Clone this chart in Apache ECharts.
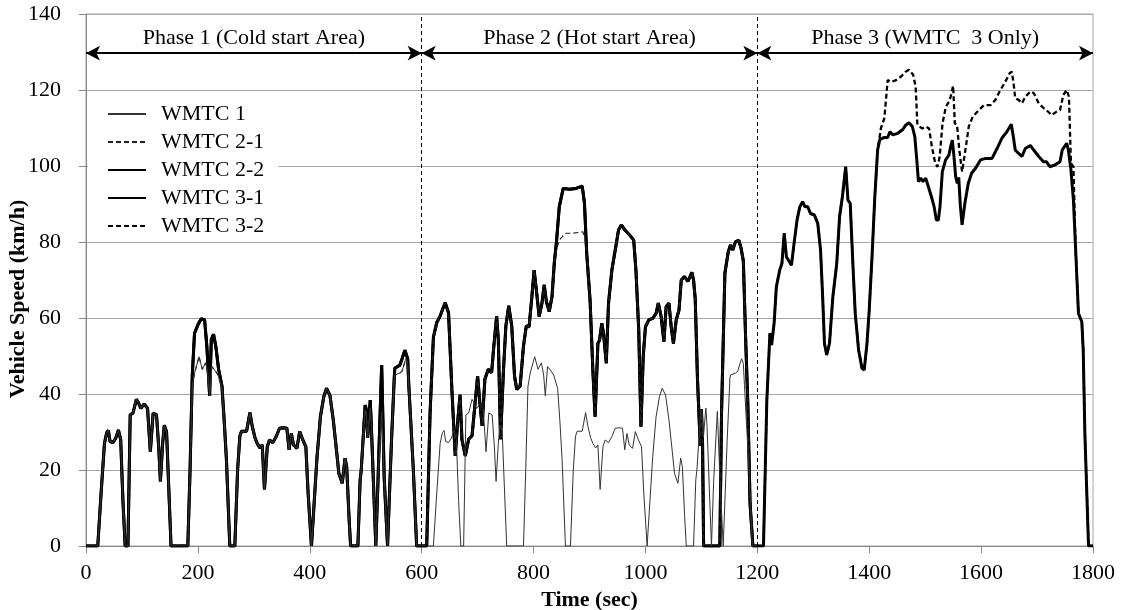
<!DOCTYPE html>
<html>
<head>
<meta charset="utf-8">
<script src="https://cdn.jsdelivr.net/npm/echarts@6/dist/echarts.min.js"></script>
<style>
html,body{margin:0;padding:0;background:#fff;}
#chart{width:1126px;height:610px;}
</style>
</head>
<body>
<div id="chart"></div>
<script>
// ---- Data: [time (s), speed (km/h)] ----
const seriesNames = ['WMTC 1', 'WMTC 2-1', 'WMTC 2-2', 'WMTC 3-1', 'WMTC 3-2'];
const phaseLabels = ['Phase 1 (Cold start Area)', 'Phase 2 (Hot start Area)', 'Phase 3 (WMTC  3 Only)'];
const phaseBounds = [0, 600, 1200, 1800];
const phaseArrowLevel = 129.7;

// Phase 1, full speed (WMTC 2-2 / 3-1 / 3-2)
const part1Full = [[0,0],[21,0],[27,14],[33,27],[37,29.8],[40,30.4],[43,27.5],[48,27.2],[53,28.3],[58,30.5],[62,28],[66,12],[70,0],[75,0],[79,34.5],[84,35],[90,38.6],[94,37.6],[98,36.2],[104,37.4],[110,36.2],[115,24.8],[120,35],[126,34.5],[130,26],[133,17],[137,27],[140,31.8],[144,30],[148,15],[152,0],[182,0],[186,20],[190,45],[194,56],[200,58.2],[206,59.8],[212,59.5],[216,52.6],[221,39.5],[224,54.4],[228,55.7],[232,52.6],[237,46.5],[243,42.1],[247,33],[251,22.8],[257,0],[266,0],[271,20],[275,28.9],[278,30.2],[287,30.2],[293,35.1],[297,31.6],[302,28.5],[306,27],[311,25.8],[315,26.6],[319,14.9],[324,26.1],[328,27.9],[334,27.2],[340,28.8],[346,31],[353,31.1],[359,31],[363,25.3],[367,29.6],[371,26.6],[377,25.7],[382,30.1],[387,28.1],[393,26.1],[397,13.9],[403,0],[406,0],[413,23.5],[419,34],[425,39.3],[430,41.5],[436,39.7],[442,33.2],[448,24.8],[452,19.1],[458,16.5],[463,23.1],[466,20.9],[470,8],[473,0],[486,0],[490,17.4],[492,20],[499,37.1],[501,36],[503.5,28.5],[508,38.4],[510,31.8],[518,0],[522,17.4],[528.5,47.6],[530,38],[533,18],[539,0],[546,27.5],[551,44.2],[552,46.8],[561,47.6],[565,49.3],[570,51.5],[572,51.9],[575,49.3],[577,42.3],[585,20.4],[591,0],[600,0]];

// Phase 1, reduced speed (WMTC 1 / 2-1, cold)
const part1Reduced = [[0,0],[21,0],[27,14],[33,27],[37,29.8],[40,30.4],[43,27.5],[48,27.2],[53,28.3],[58,30.5],[62,28],[66,12],[70,0],[75,0],[79,34.5],[84,35],[90,38.6],[94,37.6],[98,36.2],[104,37.4],[110,36.2],[115,24.8],[120,35],[126,34.5],[130,26],[133,17],[137,27],[140,31.8],[144,30],[148,15],[152,0],[182,0],[186,20],[190,42],[194,45.5],[202,49.8],[208,46.5],[214,48.2],[218,45],[221,39.5],[225,47.2],[230,46.3],[236,45],[243,41.5],[247,33],[251,22.8],[257,0],[266,0],[271,20],[275,28.9],[278,30.2],[287,30.2],[293,35.1],[297,31.6],[302,28.5],[306,27],[311,25.8],[315,26.6],[319,14.9],[324,26.1],[328,27.9],[334,27.2],[340,28.8],[346,31],[353,31.1],[359,31],[363,25.3],[367,29.6],[371,26.6],[377,25.7],[382,30.1],[387,28.1],[393,26.1],[397,13.9],[403,0],[406,0],[413,23.5],[419,34],[425,39.3],[430,41.5],[436,39.7],[442,33.2],[448,24.8],[452,19.1],[458,16.5],[463,23.1],[466,20.9],[470,8],[473,0],[486,0],[490,17.4],[492,20],[499,35.8],[501,35],[503.5,28.5],[508,36.3],[510,31.8],[518,0],[522,17.4],[528.5,35.4],[530,30],[533,18],[539,0],[546,27.5],[551,44.2],[552,45],[561,45.5],[565,46],[570,48.5],[572,49.3],[575,48],[577,42.3],[585,20.4],[591,0],[600,0]];

// Phase 2 of WMTC 1 (reduced part 1 run again, hot)
const part1ReducedHot = [[600,0],[621,0],[627,14],[633,27],[637,29.8],[640,30.4],[643,27.5],[648,27.2],[653,28.3],[658,30.5],[662,28],[666,12],[670,0],[675,0],[679,34.5],[684,35],[690,38.6],[694,37.6],[698,36.2],[704,37.4],[710,36.2],[715,24.8],[720,35],[726,34.5],[730,26],[733,17],[737,27],[740,31.8],[744,30],[748,15],[752,0],[782,0],[786,20],[790,42],[794,45.5],[802,49.8],[808,46.5],[814,48.2],[818,45],[821,39.5],[825,47.2],[830,46.3],[836,45],[843,41.5],[847,33],[851,22.8],[857,0],[866,0],[871,20],[875,28.9],[878,30.2],[887,30.2],[893,35.1],[897,31.6],[902,28.5],[906,27],[911,25.8],[915,26.6],[919,14.9],[924,26.1],[928,27.9],[934,27.2],[940,28.8],[946,31],[953,31.1],[959,31],[963,25.3],[967,29.6],[971,26.6],[977,25.7],[982,30.1],[987,28.1],[993,26.1],[997,13.9],[1003,0],[1006,0],[1013,23.5],[1019,34],[1025,39.3],[1030,41.5],[1036,39.7],[1042,33.2],[1048,24.8],[1052,19.1],[1058,16.5],[1063,23.1],[1066,20.9],[1070,8],[1073,0],[1086,0],[1090,17.4],[1092,20],[1099,35.8],[1101,35],[1103.5,28.5],[1108,36.3],[1110,31.8],[1118,0],[1122,17.4],[1128.5,35.4],[1130,30],[1133,18],[1139,0],[1146,27.5],[1151,44.2],[1152,45],[1161,45.5],[1165,46],[1170,48.5],[1172,49.3],[1175,48],[1177,42.3],[1185,20.4],[1191,0],[1200,0]];

// Phase 2, full speed (WMTC 2-2 / 3-1 / 3-2)
const part2Full = [[600,0],[609,0],[615,35],[621,55],[627,58.8],[633,60.5],[638,62.5],[642,64],[648,61.4],[654,41.2],[660,23.7],[664,32],[668.6,39.8],[672,28],[678,23.7],[684,28.1],[690,29],[695,36.8],[700,44.7],[704,37.7],[708,31.6],[713,43.9],[719,46.5],[725,45.6],[729,52.6],[734,60.5],[737,54.4],[741,28.1],[746,45.6],[750.5,57.9],[755.6,63.2],[761,57.9],[766,44.7],[770,41.2],[776,42.1],[782,52.6],[787,57.9],[792,57.7],[797,65.6],[801,72.6],[805,67.4],[810,60.4],[815,63.9],[819,68.7],[823,64.3],[828,61.7],[833,65.6],[837,74.4],[841,80.1],[846,89.3],[853,94.1],[864,93.9],[876,94.1],[887,94.7],[891,90.2],[895,77],[901,64.7],[906,46.3],[910,34],[915,53.3],[918,54.2],[922,58.6],[925,56],[930,48.1],[934,63.9],[940,72.6],[946,77.9],[952,83.2],[957,84.5],[963,83.2],[972,81.8],[979,80.5],[983,72.6],[988,56.8],[992,31.4],[996,49.8],[1000,57.7],[1006,59.5],[1013,59.9],[1019,61.2],[1023,63.9],[1028,60.4],[1033,53.8],[1037,63],[1042,63.9],[1046,57.7],[1050,53.3],[1055,59.5],[1060,62.1],[1064,70],[1070,70.9],[1076,69.6],[1083,72],[1086,70],[1089,65],[1093,43.9],[1098,26.3],[1100,36],[1102,28],[1104,0],[1133,0],[1136,35],[1142,71.8],[1148,77.4],[1152,79.2],[1156,77.9],[1161,80.1],[1167,80.4],[1171,78.3],[1175,75],[1179,55],[1183,37.5],[1187,11.2],[1192,0],[1200,0]];

// Phase 2, reduced speed (WMTC 2-1)
const part2Reduced = [[600,0],[609,0],[615,35],[621,55],[627,58.8],[633,60.5],[638,62.5],[642,64],[648,61.4],[654,41.2],[660,23.7],[664,32],[668.6,39.8],[672,28],[678,23.7],[684,28.1],[690,29],[695,36.8],[700,44.7],[704,37.7],[708,31.6],[713,43.9],[719,46.5],[725,45.6],[729,52.6],[734,60.5],[737,54.4],[741,28.1],[746,45.6],[750.5,57.9],[755.6,63.2],[761,57.9],[766,44.7],[770,41.2],[776,42.1],[782,52.6],[787,57.9],[792,57.7],[797,65.6],[801,72.6],[805,67.4],[810,60.4],[815,63.9],[819,68.7],[823,64.3],[828,61.7],[833,65.6],[837,74.4],[841,78],[846,80.5],[852,81.5],[858,82.3],[870,82.3],[880,82.5],[888,82.7],[892,81],[895,77],[901,64.7],[906,46.3],[910,34],[915,53.3],[918,54.2],[922,58.6],[925,56],[930,48.1],[934,63.9],[940,72.6],[946,77.9],[952,83.2],[957,84.5],[963,83.2],[972,81.8],[979,80.5],[983,72.6],[988,56.8],[992,31.4],[996,49.8],[1000,57.7],[1006,59.5],[1013,59.9],[1019,61.2],[1023,63.9],[1028,60.4],[1033,53.8],[1037,63],[1042,63.9],[1046,57.7],[1050,53.3],[1055,59.5],[1060,62.1],[1064,70],[1070,70.9],[1076,69.6],[1083,72],[1086,70],[1089,65],[1093,43.9],[1098,26.3],[1100,36],[1102,28],[1104,0],[1133,0],[1136,35],[1142,71.8],[1148,77.4],[1152,79.2],[1156,77.9],[1161,80.1],[1167,80.4],[1171,78.3],[1175,75],[1179,55],[1183,37.5],[1187,11.2],[1192,0],[1200,0]];

// Phase 3, reduced speed (WMTC 3-1)
const part3Reduced = [[1200,0],[1211,0],[1217,38.4],[1222.5,56],[1225.5,52.9],[1230,58.6],[1234,68.2],[1240,72.6],[1244,74.4],[1248,82.3],[1252,76.1],[1261,73.9],[1266,80.1],[1271,85.8],[1276,89.3],[1281,90.6],[1285,89.3],[1290,89.3],[1295,87.5],[1302,87.1],[1308,84.9],[1313,77.9],[1317,64.7],[1320,53.3],[1324,50.3],[1329,53.3],[1335,65.6],[1342,74.4],[1347,86.7],[1352,91.9],[1358,99.8],[1362,91],[1366,90.2],[1371,73.5],[1375,61.2],[1381,51.6],[1387,46.8],[1391,46.3],[1396,53.3],[1400,62.1],[1405,76.1],[1410,91.9],[1415,104.2],[1419,107],[1427,107.5],[1433,107.5],[1437,109],[1442,108.2],[1451,108.6],[1460,109.6],[1465.5,110.8],[1471,111.4],[1477,110.4],[1481.5,107.7],[1485,101.6],[1488,95.9],[1492,96.8],[1496,95.9],[1501,96.8],[1504,95.4],[1507,95.9],[1512,91.5],[1516,89.3],[1520,85.8],[1523.6,85.8],[1526.5,89.3],[1530.7,98.5],[1536.6,101.6],[1542.5,102.9],[1545.5,105.1],[1548.5,106.8],[1551.5,102.5],[1554.5,97.2],[1557.5,95.4],[1560,97],[1563,89.3],[1566,84.5],[1571,90.2],[1577,95.4],[1583,98.1],[1590,99.4],[1599,101.6],[1608,102],[1619.5,102],[1628.5,104.6],[1637,107.3],[1646,109],[1654,111],[1658,107.3],[1661,104.2],[1667,103.3],[1673,102.5],[1679,104.6],[1688,105.4],[1694,104.2],[1703,102.5],[1711.5,101.1],[1717,101.1],[1723,99.8],[1732,100.3],[1741,101.1],[1745,104.2],[1753,106],[1756,104.2],[1760.6,98.9],[1765,91],[1769,77.9],[1774,61.2],[1780,59],[1782.5,51.6],[1785.5,29.6],[1792,0],[1800,0]];

// Phase 3, full speed (WMTC 3-2)
const part3Full = [[1200,0],[1211,0],[1217,38.4],[1222.5,56],[1225.5,52.9],[1230,58.6],[1234,68.2],[1240,72.6],[1244,74.4],[1248,82.3],[1252,76.1],[1261,73.9],[1266,80.1],[1271,85.8],[1276,89.3],[1281,90.6],[1285,89.3],[1290,89.3],[1295,87.5],[1302,87.1],[1308,84.9],[1313,77.9],[1317,64.7],[1320,53.3],[1324,50.3],[1329,53.3],[1335,65.6],[1342,74.4],[1347,86.7],[1352,91.9],[1358,99.8],[1362,91],[1366,90.2],[1371,73.5],[1375,61.2],[1381,51.6],[1387,46.8],[1391,46.3],[1396,53.3],[1400,62.1],[1405,76.1],[1410,91.9],[1415,104.2],[1421,110],[1427,112.5],[1433,122.6],[1439,122.1],[1448,122.6],[1456.6,123.5],[1465,124.8],[1471,125.3],[1478.5,124],[1483,120.9],[1486,111.2],[1489,110.4],[1495,109.9],[1501,110.4],[1507,109.9],[1512,105.1],[1518,100.7],[1522,99.8],[1526,102.5],[1531,111.2],[1537,115.6],[1542.5,116.9],[1545.5,118.2],[1550,121.1],[1553,111.2],[1557,110.8],[1561,104.2],[1566,98.5],[1571,103.3],[1578,110.4],[1585,113],[1596,114.7],[1605,116],[1617,116],[1625.5,117.4],[1634.5,120],[1643,122.1],[1651,124.4],[1655,124.8],[1658,121.8],[1661,117.8],[1667,117.4],[1673,116.5],[1679,118.2],[1688,119.6],[1694,119.2],[1703,116.5],[1712,115.2],[1717,114.7],[1726,113.4],[1735,114.3],[1741,114.7],[1747,118.7],[1753,120],[1757,118.2],[1760.6,100.7],[1765,99.8],[1769,77.9],[1774,61.2],[1780,59],[1782.5,51.6],[1785.5,29.6],[1792,0],[1800,0]];

// ---- Chart ----
const FONT = '"Liberation Serif", "Times New Roman", serif';
const chart = echarts.init(document.getElementById('chart'), null, {renderer: 'canvas'});

function lineSeries(name, data, width, color, dash, z) {
  return {
    name: name, type: 'line', data: data, symbol: 'none', showSymbol: false, z: z,
    lineStyle: {width: width, color: color, type: dash || 'solid'},
    itemStyle: {color: color},
    animation: false, silent: true
  };
}

const arrowData = phaseLabels.map(function (lab, i) {
  return [
    {coord: [phaseBounds[i], phaseArrowLevel], label: {formatter: lab}},
    {coord: [phaseBounds[i + 1], phaseArrowLevel]}
  ];
});

const option = {
  backgroundColor: '#fff',
  animation: false,
  grid: {left: 86, right: 33, top: 14, bottom: 64, show: true, borderColor: '#a6a6a6', borderWidth: 1,
         containLabel: false, outerBoundsMode: 'none'},
  legend: {
    data: seriesNames,
    orient: 'vertical',
    left: 88, top: 98,
    padding: [5, 14, 5, 19],
    backgroundColor: '#fff',
    itemWidth: 38, itemHeight: 14, itemGap: 6,
    itemStyle: {opacity: 0},
    textStyle: {fontFamily: FONT, fontSize: 22, color: '#000', lineHeight: 22, padding: [0, 0, 0, 10]},
    selectedMode: false
  },
  xAxis: {
    type: 'value', min: 0, max: 1800, interval: 200,
    name: 'Time (sec)', nameLocation: 'middle', nameGap: 43, nameMoveOverlap: false,
    nameTextStyle: {fontFamily: FONT, fontSize: 22, fontWeight: 'bold', color: '#000'},
    axisLine: {show: true, lineStyle: {color: '#868686'}},
    axisTick: {show: true, length: 7, lineStyle: {color: '#868686'}},
    axisLabel: {fontFamily: FONT, fontSize: 22, color: '#000', margin: 16,
                formatter: function (v) { return String(v); }},
    splitLine: {show: false}
  },
  yAxis: {
    type: 'value', min: 0, max: 140, interval: 20,
    name: 'Vehicle Speed (km/h)', nameLocation: 'middle', nameGap: 57, nameMoveOverlap: false,
    nameTextStyle: {fontFamily: FONT, fontSize: 22, fontWeight: 'bold', color: '#000', padding: [0, 38, 0, 0]},
    axisLine: {show: true, lineStyle: {color: '#868686'}},
    axisTick: {show: true, length: 7, lineStyle: {color: '#868686'}},
    axisLabel: {fontFamily: FONT, fontSize: 22, color: '#000', margin: 25,
                formatter: function (v) { return String(v); }},
    splitLine: {show: true, lineStyle: {color: '#a6a6a6', width: 1}}
  },
  series: [
    lineSeries('WMTC 3-2', part1Full.concat(part2Full, part3Full), 2.3, '#000', [5, 3], 2),
    lineSeries('WMTC 3-1', part1Full.concat(part2Full, part3Reduced), 3, '#000', 'solid', 3),
    lineSeries('WMTC 2-2', part1Full.concat(part2Full), 3, '#000', 'solid', 4),
    lineSeries('WMTC 2-1', part1Reduced.concat(part2Reduced), 1.2, '#222', [5, 3], 5),
    lineSeries('WMTC 1', part1Reduced.concat(part1ReducedHot), 1, '#333', 'solid', 6),
    {
      name: 'markers', type: 'line', data: [], silent: true, z: 7,
      markLine: {
        silent: true, animation: false, symbol: 'none',
        lineStyle: {color: '#000', type: [4, 3], width: 1},
        label: {show: false},
        data: [{xAxis: phaseBounds[1]}, {xAxis: phaseBounds[2]}]
      }
    },
    {
      name: 'arrows', type: 'line', data: [], silent: true, z: 8,
      markLine: {
        silent: true, animation: false,
        symbol: ['arrow', 'arrow'], symbolSize: [11, 14],
        lineStyle: {color: '#000', type: 'solid', width: 2},
        label: {show: true, position: 'middle', distance: 4, fontFamily: FONT, fontSize: 22, color: '#000'},
        data: arrowData
      }
    }
  ]
};
chart.setOption(option);
</script>
</body>
</html>
